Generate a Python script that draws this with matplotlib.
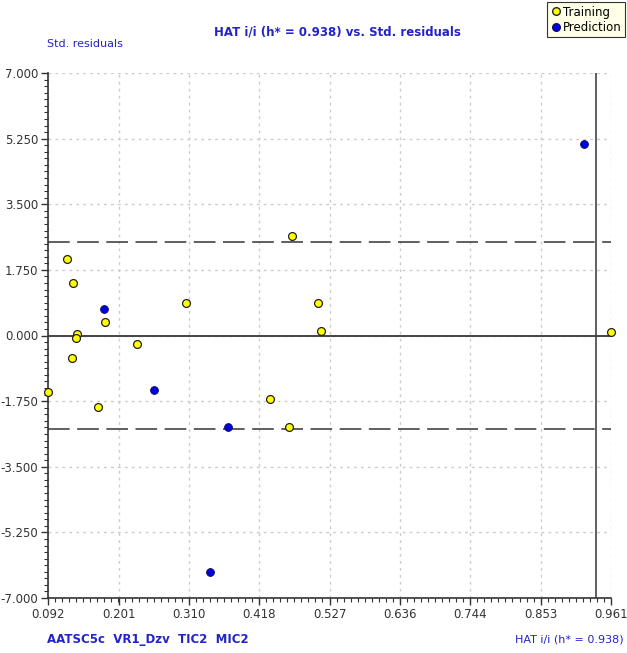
import matplotlib
matplotlib.use("Agg")
import matplotlib.pyplot as plt
import numpy as np
from matplotlib.ticker import FixedLocator, FormatStrFormatter
from matplotlib.lines import Line2D

# Data
train_hat = [0.092, 0.121, 0.131, 0.137, 0.135, 0.129, 0.180, 0.169, 0.229, 0.305,
             0.435, 0.468, 0.464, 0.509, 0.513, 0.961]
train_res = [-1.50, 2.03, 1.39, 0.04, -0.07, -0.61, 0.37, -1.90, -0.22, 0.88,
             -1.69, 2.66, -2.43, 0.87, 0.12, 0.09]
pred_hat = [0.178, 0.256, 0.370, 0.3425, 0.919]
pred_res = [0.70, -1.46, -2.45, -6.31, 5.12]

h_star = 0.938
res_limit = 2.5
x_ticks = [0.092, 0.201, 0.310, 0.418, 0.527, 0.636, 0.744, 0.853, 0.961]
y_ticks = [-7.0, -5.25, -3.5, -1.75, 0.0, 1.75, 3.5, 5.25, 7.0]

blue = '#2323c8'
W, H = 627, 653
fig = plt.figure(figsize=(W/100, H/100), dpi=100)
ax = fig.add_axes([48/W, 1-598/H, (611-48)/W, (598-73)/H])

ax.set_xlim(x_ticks[0], x_ticks[-1])
ax.set_ylim(y_ticks[0], y_ticks[-1])
ax.xaxis.set_major_locator(FixedLocator(x_ticks))
ax.yaxis.set_major_locator(FixedLocator(y_ticks))
ax.xaxis.set_minor_locator(FixedLocator(np.linspace(x_ticks[0], x_ticks[-1], 81)))
ax.yaxis.set_minor_locator(FixedLocator(np.linspace(y_ticks[0], y_ticks[-1], 81)))
ax.xaxis.set_major_formatter(FormatStrFormatter('%.3f'))
ax.yaxis.set_major_formatter(FormatStrFormatter('%.3f'))

ax.grid(True, which='major', color='#cccccc', linestyle=(0, (2, 3)), linewidth=1)
for s in ['top', 'right']:
    ax.spines[s].set_visible(False)
for s in ['left', 'bottom']:
    ax.spines[s].set_color('#333333')
    ax.spines[s].set_linewidth(1.2)
ax.tick_params(which='major', direction='out', length=5, width=1, color='#333333',
               labelsize=8.5, labelcolor='#333333', pad=2)
ax.tick_params(which='minor', direction='out', length=3, width=0.8, color='#333333')

ax.axhline(0, color='#444444', linewidth=1.4, zorder=2)
ax.axvline(h_star, color='#444444', linewidth=1.2, zorder=2)
ax.axhline(res_limit, color='#444444', linewidth=1.2, linestyle=(0, (13, 4.5)), zorder=2)
ax.axhline(-res_limit, color='#444444', linewidth=1.2, linestyle=(0, (13, 4.5)), zorder=2)

ax.scatter(train_hat, train_res, s=32, c='#ffff00', edgecolors='#222222',
           linewidths=0.9, zorder=4, clip_on=False)
ax.scatter(pred_hat, pred_res, s=32, c='#0000e0', edgecolors='#101060',
           linewidths=0.6, zorder=4, clip_on=False)

fig.text(337/W, 1-32/H, 'HAT i/i (h* = 0.938) vs. Std. residuals', color=blue,
         fontsize=8.5, fontweight='bold', ha='center', va='center')
fig.text(47/W, 1-44/H, 'Std. residuals', color=blue, fontsize=8,
         ha='left', va='center')
fig.text(47/W, 1-640/H, 'AATSC5c  VR1_Dzv  TIC2  MIC2', color=blue, fontsize=8.5,
         fontweight='bold', ha='left', va='center')
fig.text(624/W, 1-640/H, 'HAT i/i (h* = 0.938)', color=blue, fontsize=8,
         ha='right', va='center')

# legend box
handles = [Line2D([], [], marker='o', linestyle='none', markersize=5.5,
                  markerfacecolor='#ffff00', markeredgecolor='#222222', label='Training'),
           Line2D([], [], marker='o', linestyle='none', markersize=5.5,
                  markerfacecolor='#0000e0', markeredgecolor='#101060', label='Prediction')]
leg = fig.legend(handles=handles, loc='upper right', bbox_to_anchor=(625/W, 1-2/H),
                 fontsize=8.5, frameon=True, fancybox=False, handletextpad=0.1,
                 handlelength=0.9, borderpad=0.3, labelspacing=0.2, borderaxespad=0)
leg.get_frame().set_facecolor('#ffffe1')
leg.get_frame().set_edgecolor('#000000')
leg.get_frame().set_linewidth(0.8)

fig.savefig('out.png', dpi=100)
